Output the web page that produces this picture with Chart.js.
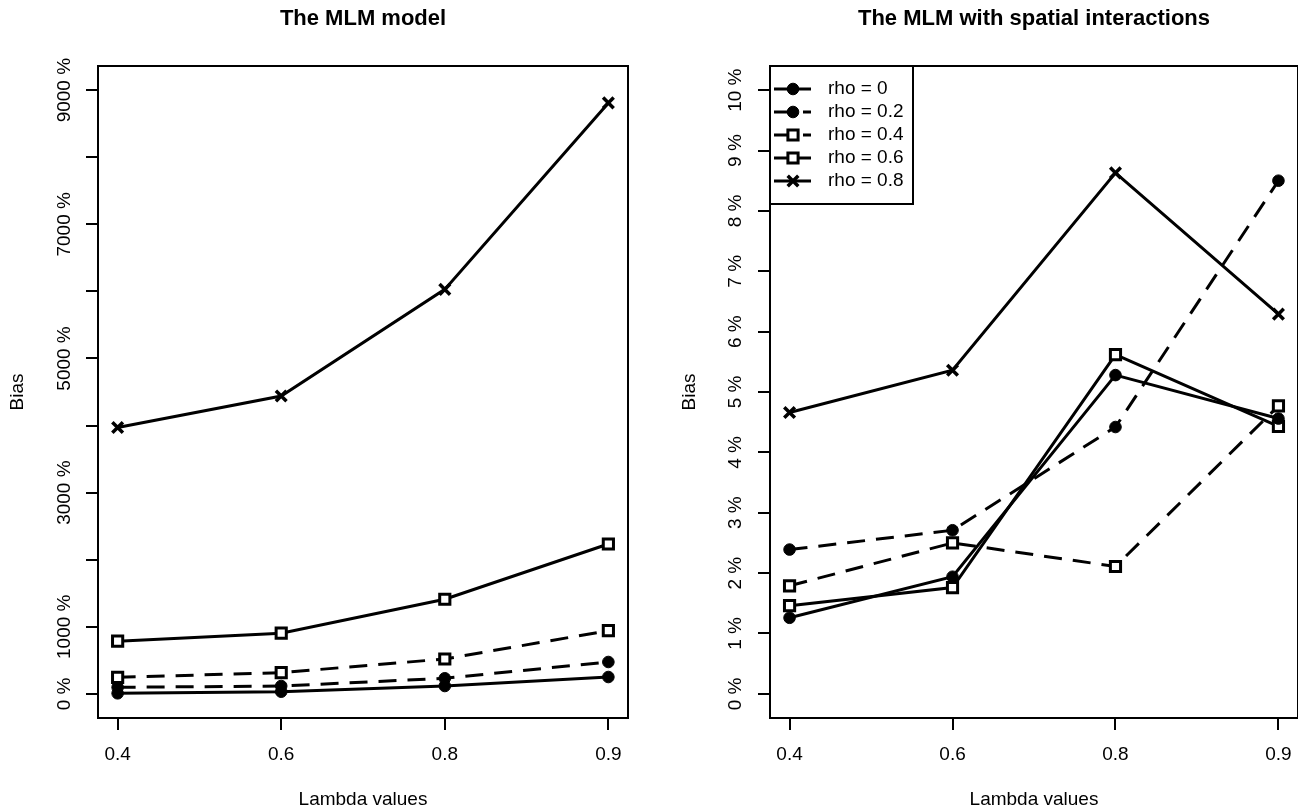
<!DOCTYPE html>
<html><head><meta charset="utf-8">
<script src="https://cdn.jsdelivr.net/npm/chart.js@4"></script>
<style>
html,body{margin:0;padding:0;background:#fff;overflow:hidden;width:1298px;height:811px;}
#c1{position:absolute;left:0;top:0;}
#w2{position:absolute;left:649px;top:0;width:649px;height:811px;overflow:hidden;}
#c2{position:absolute;left:0;top:0;}
</style></head><body>
<canvas id="c1" width="649" height="811"></canvas>
<div id="w2"><canvas id="c2" width="660" height="811"></canvas></div>
<script>
// ---- data ----
const lambdaLabels = ['0.4', '0.6', '0.8', '0.9'];
const seriesNames = ['rho = 0', 'rho = 0.2', 'rho = 0.4', 'rho = 0.6', 'rho = 0.8'];

// The MLM model (bias in %)
const mlmRho0  = [8, 32, 117, 251];
const mlmRho02 = [97, 117, 232, 475];
const mlmRho04 = [246, 316, 520, 942];
const mlmRho06 = [786, 905, 1410, 2234];
const mlmRho08 = [3970, 4440, 6030, 8810];

// The MLM with spatial interactions (bias in %)
const spRho0  = [1.26, 1.94, 5.28, 4.56];
const spRho02 = [2.39, 2.71, 4.42, 8.50];
const spRho04 = [1.79, 2.50, 2.11, 4.77];
const spRho06 = [1.46, 1.76, 5.62, 4.43];
const spRho08 = [4.66, 5.36, 8.63, 6.29];

const leftYTicks  = [0, 1000, 2000, 3000, 4000, 5000, 6000, 7000, 8000, 9000];
const leftYLabels = ['0 %', '1000 %', '', '3000 %', '', '5000 %', '', '7000 %', '', '9000 %'];
const rightYTicks  = [0, 1, 2, 3, 4, 5, 6, 7, 8, 9, 10];
const rightYLabels = ['0 %', '1 %', '2 %', '3 %', '4 %', '5 %', '6 %', '7 %', '8 %', '9 %', '10 %'];

// ---- styles ----
const FONT = '"Liberation Sans", Arial, Helvetica, sans-serif';
const DASH = [18, 11];
const seriesStyle = [
  {dash: [],   point: 'circle',   radius: 5.8, bg: '#000', bw: 1},
  {dash: DASH, point: 'circle',   radius: 5.8, bg: '#000', bw: 1},
  {dash: DASH, point: 'rect',     radius: 7.2, bg: '#fff', bw: 3},
  {dash: [],   point: 'rect',     radius: 7.2, bg: '#fff', bw: 3},
  {dash: [],   point: 'crossRot', radius: 7.5, bg: '#000', bw: 3.5}
];

function buildDatasets(seriesList) {
  return seriesList.map((vals, i) => {
    const s = seriesStyle[i];
    return {
      label: seriesNames[i],
      data: vals.map((v, j) => ({x: j + 1, y: v})),
      borderColor: '#000',
      borderWidth: 3,
      borderDash: s.dash,
      tension: 0,
      fill: false,
      pointStyle: s.point,
      pointRadius: s.radius,
      pointBackgroundColor: s.bg,
      pointBorderColor: '#000',
      pointBorderWidth: s.bw,
      pointHoverRadius: s.radius
    };
  });
}

const boxPlugin = {
  id: 'box',
  afterDraw(chart) {
    const a = chart.chartArea, ctx = chart.ctx;
    ctx.save();
    ctx.strokeStyle = '#000';
    ctx.lineWidth = 2;
    ctx.setLineDash([]);
    ctx.strokeRect(a.left, a.top, a.right - a.left, a.bottom - a.top);
    ctx.restore();
  }
};

const legendPlugin = {
  id: 'rlegend',
  afterDraw(chart) {
    if (!chart.options.plugins.rlegend || !chart.options.plugins.rlegend.show) return;
    const a = chart.chartArea, ctx = chart.ctx;
    ctx.save();
    ctx.fillStyle = '#fff';
    ctx.fillRect(a.left, a.top, 143, 138);
    ctx.strokeStyle = '#000';
    ctx.lineWidth = 2;
    ctx.strokeRect(a.left, a.top, 143, 138);
    chart.data.datasets.forEach((ds, i) => {
      const y = a.top + 23 + 23 * i;
      ctx.strokeStyle = '#000';
      ctx.lineWidth = 3;
      ctx.setLineDash(ds.borderDash);
      ctx.beginPath();
      ctx.moveTo(a.left + 4, y);
      ctx.lineTo(a.left + 41, y);
      ctx.stroke();
      ctx.setLineDash([]);
      ctx.fillStyle = ds.pointBackgroundColor;
      ctx.lineWidth = ds.pointBorderWidth;
      Chart.helpers.drawPoint(ctx, {pointStyle: ds.pointStyle, radius: ds.pointRadius, borderWidth: ds.pointBorderWidth, rotation: 0}, a.left + 23, y);
      ctx.fillStyle = '#000';
      ctx.font = '19px ' + FONT;
      ctx.textAlign = 'left';
      ctx.textBaseline = 'middle';
      ctx.fillText(ds.label, a.left + 58, y);
    });
    ctx.restore();
  }
};

function makeChart(canvasId, cfg) {
  return new Chart(document.getElementById(canvasId), {
    type: 'line',
    data: {datasets: buildDatasets(cfg.series)},
    options: {
      responsive: false,
      animation: false,
      devicePixelRatio: 1,
      layout: {padding: {left: 0, right: cfg.padRight, top: 0, bottom: 0}},
      plugins: {
        legend: {display: false},
        tooltip: {enabled: false},
        title: {
          display: true, text: cfg.title, fullSize: false, color: '#000',
          font: {family: FONT, size: 22, weight: 'bold', lineHeight: 1.2},
          padding: {top: 5.8, bottom: 33.8}
        },
        rlegend: {show: cfg.legend}
      },
      scales: {
        x: {
          type: 'linear', min: 0.88, max: 4.12,
          afterBuildTicks: s => { s.ticks = lambdaLabels.map((_, i) => ({value: i + 1})); },
          afterFit: s => { s.height = 93; },
          ticks: {
            autoSkip: false, minRotation: 0, maxRotation: 0, padding: 13, color: '#000',
            font: {family: FONT, size: 19},
            callback: v => lambdaLabels[Math.round(v) - 1]
          },
          grid: {drawOnChartArea: false, drawTicks: true, tickLength: 12, color: '#000', lineWidth: 2},
          border: {display: false},
          title: {display: true, text: 'Lambda values', color: '#000', font: {family: FONT, size: 19, lineHeight: 1.2}, padding: {top: 0, bottom: 0}}
        },
        y: {
          type: 'linear', min: cfg.yMin, max: cfg.yMax,
          afterBuildTicks: s => { s.ticks = cfg.yTicks.map(v => ({value: v})); },
          afterFit: s => { s.width = cfg.yAxisW; },
          ticks: {
            autoSkip: false, minRotation: 90, maxRotation: 90, crossAlign: 'center',
            padding: cfg.yTickPad, color: '#000', font: {family: FONT, size: 19},
            callback: (v, i) => cfg.yLabels[i]
          },
          grid: {drawOnChartArea: false, drawTicks: true, tickLength: 12, color: '#000', lineWidth: 2},
          border: {display: false},
          title: {display: true, text: 'Bias', color: '#000', font: {family: FONT, size: 19, lineHeight: 1.2}, padding: {top: cfg.yTitlePad, bottom: 0}}
        }
      }
    },
    plugins: [boxPlugin, legendPlugin]
  });
}

makeChart('c1', {
  title: 'The MLM model',
  series: [mlmRho0, mlmRho02, mlmRho04, mlmRho06, mlmRho08],
  yMin: -360, yMax: 9360, yTicks: leftYTicks, yLabels: leftYLabels,
  yAxisW: 98, yTickPad: -11.2, yTitlePad: 6.1, padRight: 21, legend: false
});

makeChart('c2', {
  title: 'The MLM with spatial interactions',
  series: [spRho0, spRho02, spRho04, spRho06, spRho08],
  yMin: -0.4, yMax: 10.4, yTicks: rightYTicks, yLabels: rightYLabels,
  yAxisW: 121, yTickPad: 0.35, yTitlePad: 29.6, padRight: 9, legend: true
});
</script>
</body></html>
